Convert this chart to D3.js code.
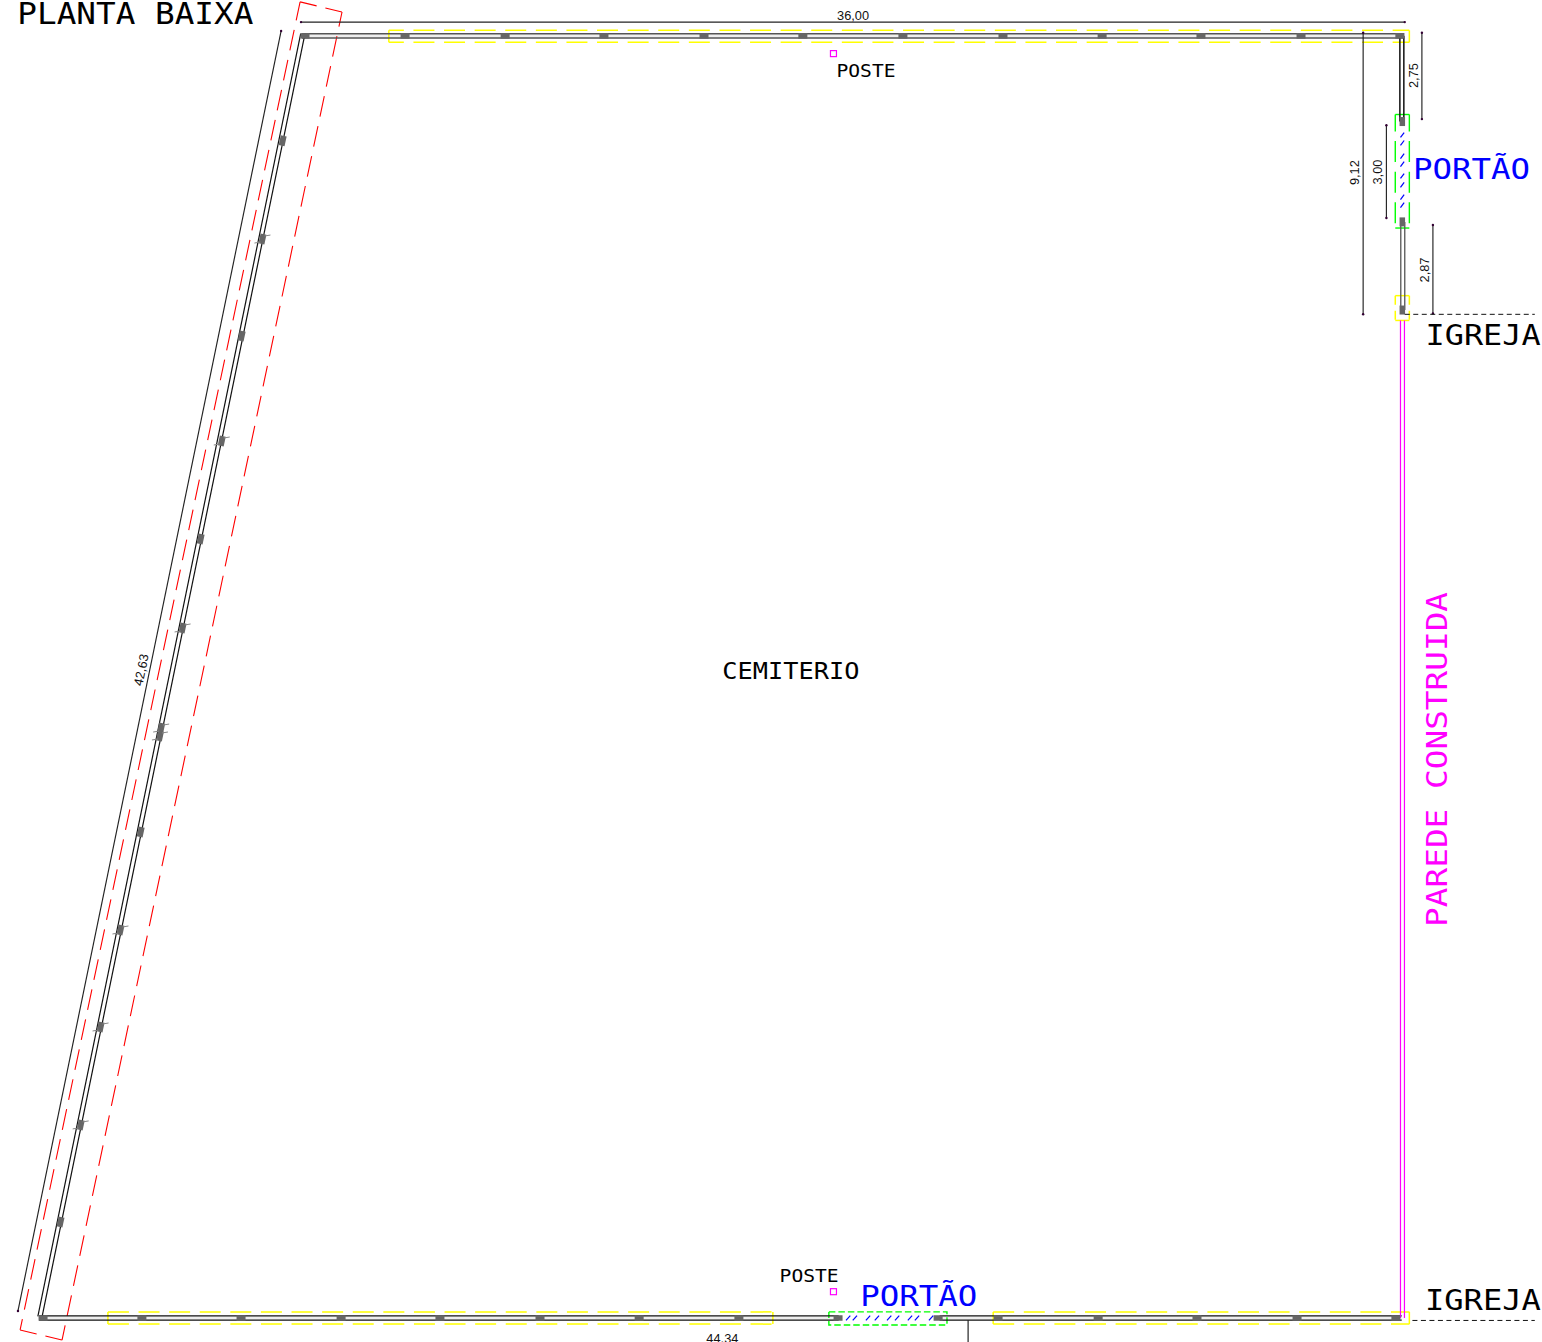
<!DOCTYPE html>
<html><head><meta charset="utf-8">
<style>html,body{margin:0;padding:0;background:#fff}svg{display:block}</style>
<script src="https://cdn.jsdelivr.net/npm/d3@7"></script></head>
<body><svg id="c" width="1542" height="1342"></svg>
<script>
// All plan geometry in metres, origin near the bottom-left corner of the site (y up)
const topPostsX=[8.66,11.93,15.20,18.43,21.70,24.93,28.20,31.47,34.71,37.94,41.21,44.44];
const bottomPostsX=[0.10,3.33,6.57,9.84,13.07,16.34,19.58,22.84,26.08,29.35,31.31,34.58,37.81,41.08,44.31];
const rightPostsY=[39.10,35.82,32.94];
const diagPosts=[[7.91,38.47],[7.25,35.26],[6.57,32.09],[5.92,28.66],[5.23,25.46],[4.64,22.55],[3.94,19.28],[3.90,19.02],[3.27,15.88],[2.61,12.68],[1.96,9.51],[1.31,6.31],[0.65,3.14]];
const whiskerPosts=[[7.25,35.26],[5.92,28.66],[4.64,22.55],[3.94,19.28],[3.90,19.02],[2.61,12.68],[1.96,9.51],[1.31,6.31]];
const hWalls=[[-0.03,26.1,0.07],[29.4,44.5,0.07]];
const topWall=[8.56,44.58,41.90];
const yellowRows=[[11.40,44.75,42.08,41.69,6],[2.22,23.95,0.20,-0.20,0],[31.15,44.75,0.20,-0.20,0]];
const yellowSmall=[44.29,44.75,33.41,32.60];
const green=[[44.29,44.75,39.33,35.62],[25.78,29.64,0.20,-0.23]];
const redCorners={tl:[8.50,43.01],tr:[9.87,42.68],br:[0.72,-0.72],bl:[-0.65,-0.39]};
const dims=[
 {a:[8.53,42.35],b:[44.6,42.35],label:"36,00",at:[26.57,42.43],rot:0},
 {a:[45.16,42.00],b:[45.16,39.18],label:"2,75",at:[45.03,40.60],rot:-90},
 {a:[44,38.98],b:[44,35.95],label:"3,00",at:[43.85,37.45],rot:-90},
 {a:[45.52,35.72],b:[45.52,32.83],label:"2,87",at:[45.38,34.25],rot:-90},
 {a:[43.24,42.00],b:[43.24,32.80],label:"9,12",at:[43.10,37.43],rot:-90},
 {a:[-0.72,0.23],b:[7.88,42.06],label:"42,63",at:[3.45,21.15],rot:-78.4}
];
const bottomDimLabel={label:"44,34",at:[22.3,-0.82]};
const bottomTick=[30.33,-0.07,-0.80];
const labels=[
 {t:"PLANTA BAIXA",at:[-0.74,42.29],size:30,len:236,fill:"#000"},
 {t:"POSTE",at:[26.03,40.56],size:18.5,len:59,fill:"#000"},
 {t:"CEMITERIO",at:[22.3,20.87],size:23,len:137,fill:"#000"},
 {t:"PORTÃO",at:[44.87,37.22],size:29,len:117,fill:"#0000ff"},
 {t:"IGREJA",at:[45.28,31.8],size:29,len:115,fill:"#000"},
 {t:"POSTE",at:[24.17,1.18],size:18.5,len:59,fill:"#000"},
 {t:"PORTÃO",at:[26.81,0.39],size:29,len:117,fill:"#0000ff"},
 {t:"IGREJA",at:[45.26,0.26],size:29,len:116,fill:"#000"}
];
const sideLabel={t:"PAREDE CONSTRUIDA",at:[45.98,12.78],size:29,len:335,fill:"#ff00ff"};
const posteMarks=[[25.93,41.32],[25.93,0.86]];
const hatchRight=[38.66,38.40,37.97,37.71,37.32,37.03,36.63,36.37];
const hatchBottom=[26.41,26.63,27.06,27.35,27.75,28.01,28.43,28.66,29.12];

const mToPx=30.6;
const x=d3.scaleLinear().domain([0,1]).range([40,40+mToPx]);
const y=d3.scaleLinear().domain([0,1]).range([1318,1318-mToPx]);
const svg=d3.select("#c");
const P=p=>[x(p[0]),y(p[1])];
const line=d3.line().x(d=>x(d[0])).y(d=>y(d[1]));
const seg=(g,pts,stroke,w,extra)=>{const s=g.append("path").attr("d",line(pts)).attr("fill","none").attr("stroke",stroke).attr("stroke-width",w);if(extra)Object.entries(extra).forEach(([k,v])=>s.attr(k,v));return s;};

// wall fill
[[[8.6,41.9],[44.5,41.9]],[[0,0],[26.1,0]],[[29.4,0],[44.5,0]]].forEach(p=>seg(svg,p,"#eeeeee",3));
// red zone: each edge dashed on its own
const rc=redCorners;
seg(svg,[rc.tr,rc.br],"#ff0000",1.1,{"stroke-dasharray":"21 9.64","stroke-dashoffset":6});
seg(svg,[rc.tl,rc.bl],"#ff0000",1.1,{"stroke-dasharray":"21 9.64","stroke-dashoffset":2});
seg(svg,[rc.tl,rc.tr],"#ff0000",1.1,{"stroke-dasharray":"17 9"});
seg(svg,[rc.bl,rc.br],"#ff0000",1.1,{"stroke-dasharray":"17 9"});

// yellow
yellowRows.forEach(r=>{
 const[x0,x1,yT,yB,off]=r;
 [yT,yB].forEach(v=>seg(svg,[[x0,v],[x1,v]],"#ffff00",1.5,{"stroke-dasharray":"21 9.6","stroke-dashoffset":off}));
 seg(svg,[[x0,yT],[x0,yB]],"#ffff00",1.5);
 seg(svg,[[x1,yT],[x1,yB]],"#ffff00",1.5);
});
(()=>{const[a,b,t,u]=yellowSmall;
 [t,u].forEach(v=>seg(svg,[[a,v],[b,v]],"#ffff00",1.5));
 [a,b].forEach(v=>seg(svg,[[v,t],[v,u]],"#ffff00",1.5,{"stroke-dasharray":"9 6"}));
})();
// green
const g0=green[0];
[g0[2],g0[3]].forEach(v=>seg(svg,[[g0[0],v],[g0[1],v]],"#00ff00",1.4));
[g0[0],g0[1]].forEach(v=>seg(svg,[[v,g0[2]],[v,g0[3]]],"#00ff00",1.4,{"stroke-dasharray":"21 9.6","stroke-dashoffset":4}));
const g1=green[1];
seg(svg,[[g1[0],g1[2]],[g1[1],g1[2]],[g1[1],g1[3]],[g1[0],g1[3]],[g1[0],g1[2]]],"#00ff00",1.4,{"stroke-dasharray":"6.5 3"});

// walls
[topWall[2]+0.07,topWall[2]-0.07].forEach(v=>seg(svg,[[topWall[0],v],[topWall[1],v]],"#555",1.4));
hWalls.forEach(w=>{[w[2],-w[2]].forEach(v=>seg(svg,[[w[0],v],[w[1],v]],"#111",1.2));});
[[-0.07,0.05,8.52,41.97],[0.07,0.05,8.66,41.97]].forEach(d=>seg(svg,[[d[0],d[1]],[d[2],d[3]]],"#111",1.2));
// right wall
[44.44,44.57].forEach(v=>seg(svg,[[v,41.9],[v,39.1]],"#111",1.5));
[44.47,44.60].forEach(v=>seg(svg,[[v,35.82],[v,32.94]],"#555",1.3));
[44.46,44.59].forEach(v=>seg(svg,[[v,32.6],[v,0]],"#ff00ff",1.2));

// posts
const post=(px,py,w,h,rot)=>svg.append("rect").attr("x",px-w/2).attr("y",py-h/2).attr("width",w).attr("height",h).attr("fill","#666").attr("transform",rot?`rotate(${rot} ${px} ${py})`:null);
topPostsX.forEach(v=>post(x(v),y(topWall[2]),9,5.5));
bottomPostsX.forEach(v=>post(x(v),y(0),9,5.5));
rightPostsY.forEach(v=>post(x(44.52),y(v),5.5,9));
diagPosts.forEach(p=>post(x(p[0])+0.6,y(p[1]),6,10,12));
whiskerPosts.forEach(p=>{
 const a=x(p[0])+0.6,b=y(p[1]);
 svg.append("line").attr("x1",a+2).attr("y1",b-3).attr("x2",a+8).attr("y2",b-4).attr("stroke","#888").attr("stroke-width",1);
 svg.append("line").attr("x1",a-8).attr("y1",b+4).attr("x2",a-2).attr("y2",b+3).attr("stroke","#888").attr("stroke-width",1);
});

// gate hatches
hatchRight.forEach(v=>seg(svg,[[44.46,v-0.08],[44.58,v+0.08]],"#0000ff",1.2));
hatchBottom.forEach(v=>seg(svg,[[v-0.07,-0.08],[v+0.07,0.08]],"#0000ff",1.2));

// dimensions
dims.forEach(d=>{
 seg(svg,[d.a,d.b],"#222",1.15);
 [d.a,d.b].forEach(p=>svg.append("circle").attr("cx",x(p[0])).attr("cy",y(p[1])).attr("r",1.2).attr("fill","#303"));
 const[tx,ty]=P(d.at);
 svg.append("text").attr("x",tx).attr("y",ty).attr("text-anchor","middle").attr("font-family","Liberation Sans").attr("font-size",12.8).attr("fill","#111").attr("transform",d.rot?`rotate(${d.rot} ${tx} ${ty})`:null).text(d.label);
});
svg.append("text").attr("x",x(bottomDimLabel.at[0])).attr("y",y(bottomDimLabel.at[1])).attr("text-anchor","middle").attr("font-family","Liberation Sans").attr("font-size",12.8).attr("fill","#111").text(bottomDimLabel.label);
seg(svg,[[bottomTick[0],bottomTick[1]],[bottomTick[0],bottomTick[2]]],"#111",1.1);

// dashed property lines
seg(svg,[[44.6,32.80],[48.85,32.80]],"#111",1,{"stroke-dasharray":"5 3.5"});
seg(svg,[[44.85,-0.08],[48.85,-0.08]],"#111",1,{"stroke-dasharray":"5 3.5"});

// poste marks
posteMarks.forEach(p=>svg.append("rect").attr("x",x(p[0])-3).attr("y",y(p[1])-3).attr("width",6).attr("height",6).attr("fill","none").attr("stroke","#ff00ff").attr("stroke-width",1.2));

// text
labels.forEach(l=>{const[tx,ty]=P(l.at);
 svg.append("text").attr("x",tx).attr("y",ty).attr("font-family","DejaVu Sans Mono").attr("font-size",l.size).attr("textLength",l.len).attr("lengthAdjust","spacingAndGlyphs").attr("fill",l.fill).text(l.t);});
svg.append("text").attr("transform",`translate(${x(sideLabel.at[0])},${y(sideLabel.at[1])}) rotate(-90)`).attr("font-family","DejaVu Sans Mono").attr("font-size",sideLabel.size).attr("textLength",sideLabel.len).attr("lengthAdjust","spacingAndGlyphs").attr("fill",sideLabel.fill).text(sideLabel.t);
</script></body></html>
